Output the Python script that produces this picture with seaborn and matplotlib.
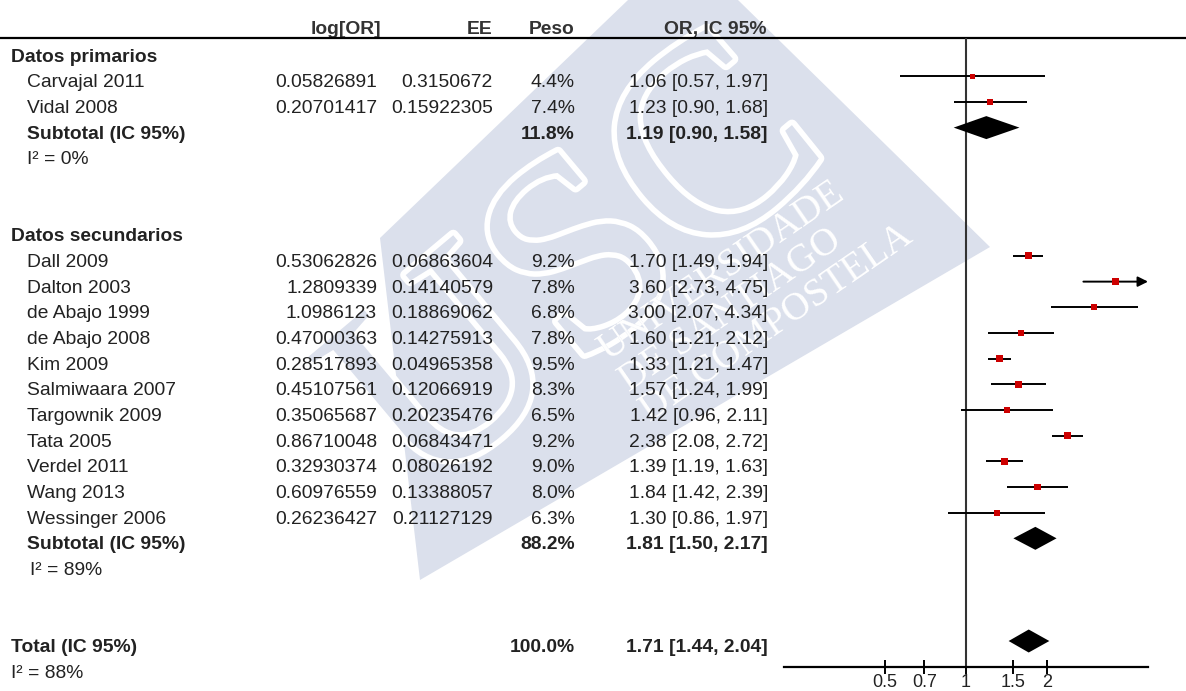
import numpy as np
import pandas as pd
import matplotlib
matplotlib.use("Agg")
import matplotlib.pyplot as plt
import matplotlib.patheffects as pe
from matplotlib.patches import Polygon
import seaborn as sns

# ---------------- data ----------------
studies_primary = ["Carvajal 2011", "Vidal 2008"]
log_or_primary = [0.05826891, 0.20701417]
se_primary = [0.3150672, 0.15922305]
weight_primary = [4.4, 7.4]
or_primary = [1.06, 1.23]
lo_primary = [0.57, 0.90]
hi_primary = [1.97, 1.68]

studies_secondary = ["Dall 2009", "Dalton 2003", "de Abajo 1999", "de Abajo 2008",
                     "Kim 2009", "Salmiwaara 2007", "Targownik 2009", "Tata 2005",
                     "Verdel 2011", "Wang 2013", "Wessinger 2006"]
log_or_secondary = [0.53062826, 1.2809339, 1.0986123, 0.47000363, 0.28517893,
                    0.45107561, 0.35065687, 0.86710048, 0.32930374, 0.60976559,
                    0.26236427]
se_secondary = [0.06863604, 0.14140579, 0.18869062, 0.14275913, 0.04965358,
                0.12066919, 0.20235476, 0.06843471, 0.08026192, 0.13388057,
                0.21127129]
weight_secondary = [9.2, 7.8, 6.8, 7.8, 9.5, 8.3, 6.5, 9.2, 9.0, 8.0, 6.3]
or_secondary = [1.70, 3.60, 3.00, 1.60, 1.33, 1.57, 1.42, 2.38, 1.39, 1.84, 1.30]
lo_secondary = [1.49, 2.73, 2.07, 1.21, 1.21, 1.24, 0.96, 2.08, 1.19, 1.42, 0.86]
hi_secondary = [1.94, 4.75, 4.34, 2.12, 1.47, 1.99, 2.11, 2.72, 1.63, 2.39, 1.97]

subgroups = ["Datos primarios", "Datos secundarios"]
subtotal_weight = [11.8, 88.2]
subtotal_or = [1.19, 1.81]
subtotal_lo = [0.90, 1.50]
subtotal_hi = [1.58, 2.17]
subtotal_i2 = [0, 89]

total_label = "Total (IC 95%)"
total_weight = 100.0
total_or = 1.71
total_lo = 1.44
total_hi = 2.04
total_i2 = 88

column_headers = ["log[OR]", "EE", "Peso", "OR, IC 95%"]
x_ticks = [0.5, 0.7, 1, 1.5, 2]
x_tick_labels = ["0.5", "0.7", "1", "1.5", "2"]

# ---------------- layout ----------------
W, H = 1186, 691
ROW0, ROW_H = 50.6, 25.67
LINE_TOP, AXIS_Y = 38, 667
PLOT_L, PLOT_R = 784, 1148
HALF_RANGE = 1.557            # log-units shown each side of OR = 1
X_NAME_HEAD, X_NAME = 11, 27
X_LOG, X_SE, X_W, X_CI = 377, 493, 575, 768
TXT = "#222222"
FS = 13.9
BASE = 11                     # baseline offset below the row centre
DIAMOND_H = 11.5
WM_BLUE = "#dbe0ec"
WM_SHAPE = [(628, 0), (738, 0), (990, 247), (420, 580), (380, 238)]


def row_y(i):
    return ROW0 + i * ROW_H


groups = [
    dict(name=subgroups[0], studies=studies_primary, logor=log_or_primary,
         se=se_primary, w=weight_primary, est=or_primary, lo=lo_primary,
         hi=hi_primary, head_row=0),
    dict(name=subgroups[1], studies=studies_secondary, logor=log_or_secondary,
         se=se_secondary, w=weight_secondary, est=or_secondary, lo=lo_secondary,
         hi=hi_secondary, head_row=7),
]

records = []
for g in groups:
    for k, s in enumerate(g["studies"]):
        records.append(dict(study=s, row=g["head_row"] + 1 + k,
                            logor=g["logor"][k], se=g["se"][k], weight=g["w"][k],
                            est=g["est"][k], lo=g["lo"][k], hi=g["hi"][k]))
df = pd.DataFrame(records)
df["y"] = row_y(df["row"])

sns.set_theme(style="white")
plt.rcParams["font.family"] = ["Liberation Sans", "DejaVu Sans"]

fig = plt.figure(figsize=(W / 100, H / 100), dpi=100)
fig.patch.set_facecolor("white")

# full-figure layer for the table text
tab = fig.add_axes([0, 0, 1, 1])
tab.set_xlim(0, W)
tab.set_ylim(H, 0)
tab.axis("off")

# institutional watermark: light tile with outlined initials
tile = Polygon(WM_SHAPE, closed=True, facecolor=WM_BLUE, edgecolor="none", zorder=0)
tab.add_patch(tile)
tab.text(585, 275, "USC", family="Liberation Serif", fontsize=200,
         color=WM_BLUE, rotation=40, rotation_mode="anchor",
         ha="center", va="center", zorder=0.2,
         path_effects=[pe.withStroke(linewidth=8, foreground="white")])
wm_text = "UNIVERSIDADE\nDE SANTIAGO\nDE COMPOSTELA"
wm_kw = dict(family="Liberation Serif", fontsize=28, rotation=34.5,
             rotation_mode="anchor", ha="left", va="top", linespacing=1.0)
tab.text(592, 338, wm_text, color=WM_BLUE, zorder=0.5, **wm_kw)
inner = tab.text(592, 338, wm_text, color="white", zorder=0.6, **wm_kw)
inner.set_clip_path(tile)

# header
head_y = 34
for label, x in zip(column_headers, [381, X_SE, X_W, 767]):
    tab.text(x, head_y, label, ha="right", va="baseline", fontsize=FS,
             fontweight="bold", color="#333333", zorder=3)
tab.plot([0, W], [LINE_TOP, LINE_TOP], color="black", lw=1.6, zorder=3)


def put(x, y, s, ha="left", bold=False):
    tab.text(x, y + BASE, s, ha=ha, va="baseline", fontsize=FS, color=TXT,
             fontweight="bold" if bold else "normal", zorder=3)


for gi, g in enumerate(groups):
    put(X_NAME_HEAD, row_y(g["head_row"]), g["name"], bold=True)
    n = len(g["studies"])
    sub_row = g["head_row"] + 1 + n
    put(X_NAME, row_y(sub_row), "Subtotal (IC 95%)", bold=True)
    put(X_W, row_y(sub_row), f"{subtotal_weight[gi]:.1f}%", ha="right", bold=True)
    put(X_CI, row_y(sub_row),
        f"{subtotal_or[gi]:.2f} [{subtotal_lo[gi]:.2f}, {subtotal_hi[gi]:.2f}]",
        ha="right", bold=True)
    put(X_NAME + (3 if gi else 0), row_y(sub_row + 1), f"I² = {subtotal_i2[gi]}%")

for _, r in df.iterrows():
    put(X_NAME, r["y"], r["study"])
    put(X_LOG, r["y"], f"{r['logor']:.8g}", ha="right")
    put(X_SE, r["y"], f"{r['se']:.8g}", ha="right")
    put(X_W, r["y"], f"{r['weight']:.1f}%", ha="right")
    put(X_CI, r["y"], f"{r['est']:.2f} [{r['lo']:.2f}, {r['hi']:.2f}]", ha="right")

total_row = 23
put(X_NAME_HEAD, row_y(total_row), total_label, bold=True)
put(X_W, row_y(total_row), f"{total_weight:.1f}%", ha="right", bold=True)
put(X_CI, row_y(total_row), f"{total_or:.2f} [{total_lo:.2f}, {total_hi:.2f}]",
    ha="right", bold=True)
put(X_NAME_HEAD, row_y(total_row + 1), f"I² = {total_i2}%")

# ---------------- forest panel ----------------
ax = fig.add_axes([PLOT_L / W, (H - AXIS_Y) / H, (PLOT_R - PLOT_L) / W,
                   (AXIS_Y - LINE_TOP) / H])
ax.set_facecolor("none")
ax.set_xscale("log")
xmin, xmax = np.exp(-HALF_RANGE), np.exp(HALF_RANGE)
ax.set_xlim(xmin, xmax)
ax.set_ylim(AXIS_Y, LINE_TOP)

ax.axvline(1, color="#333333", lw=1.5, zorder=1)

inside = df[df["hi"] <= xmax]
ax.hlines(inside["y"], inside["lo"], inside["hi"], color="black", lw=1.4, zorder=2)
for _, r in df[df["hi"] > xmax].iterrows():
    ax.annotate("", xy=(xmax, r["y"]), xytext=(r["lo"], r["y"]),
                arrowprops=dict(arrowstyle="-|>", color="black", lw=1.4,
                                mutation_scale=15, shrinkA=0, shrinkB=0),
                zorder=2, annotation_clip=False)

wmin, wmax = df["weight"].min(), df["weight"].max()
sns.scatterplot(data=df, x="est", y="y", size="weight",
                sizes=(2.8 * wmin, 2.8 * wmax), size_norm=(wmin, wmax),
                marker="s", color="#cc0000", linewidth=0, legend=False,
                ax=ax, zorder=4)

pooled_rows = [row_y(3), row_y(19)]
pooled = list(zip(pooled_rows, subtotal_or, subtotal_lo, subtotal_hi))
pooled.append((row_y(total_row), total_or, total_lo, total_hi))
for y, est, lo, hi in pooled:
    ax.fill([lo, est, hi, est], [y, y - DIAMOND_H, y, y + DIAMOND_H],
            color="black", lw=0, zorder=3)

ax.set_xticks(x_ticks)
ax.set_xticklabels(x_tick_labels)
ax.minorticks_off()
ax.set_yticks([])
ax.set_xlabel("")
ax.set_ylabel("")
ax.tick_params(axis="x", bottom=True, direction="inout", length=9.5, width=1.4,
               pad=0, labelsize=13, labelcolor=TXT, color="black")
for side in ["top", "left", "right"]:
    ax.spines[side].set_visible(False)
ax.spines["bottom"].set_color("black")
ax.spines["bottom"].set_linewidth(1.6)

fig.savefig("out.png", dpi=100)
